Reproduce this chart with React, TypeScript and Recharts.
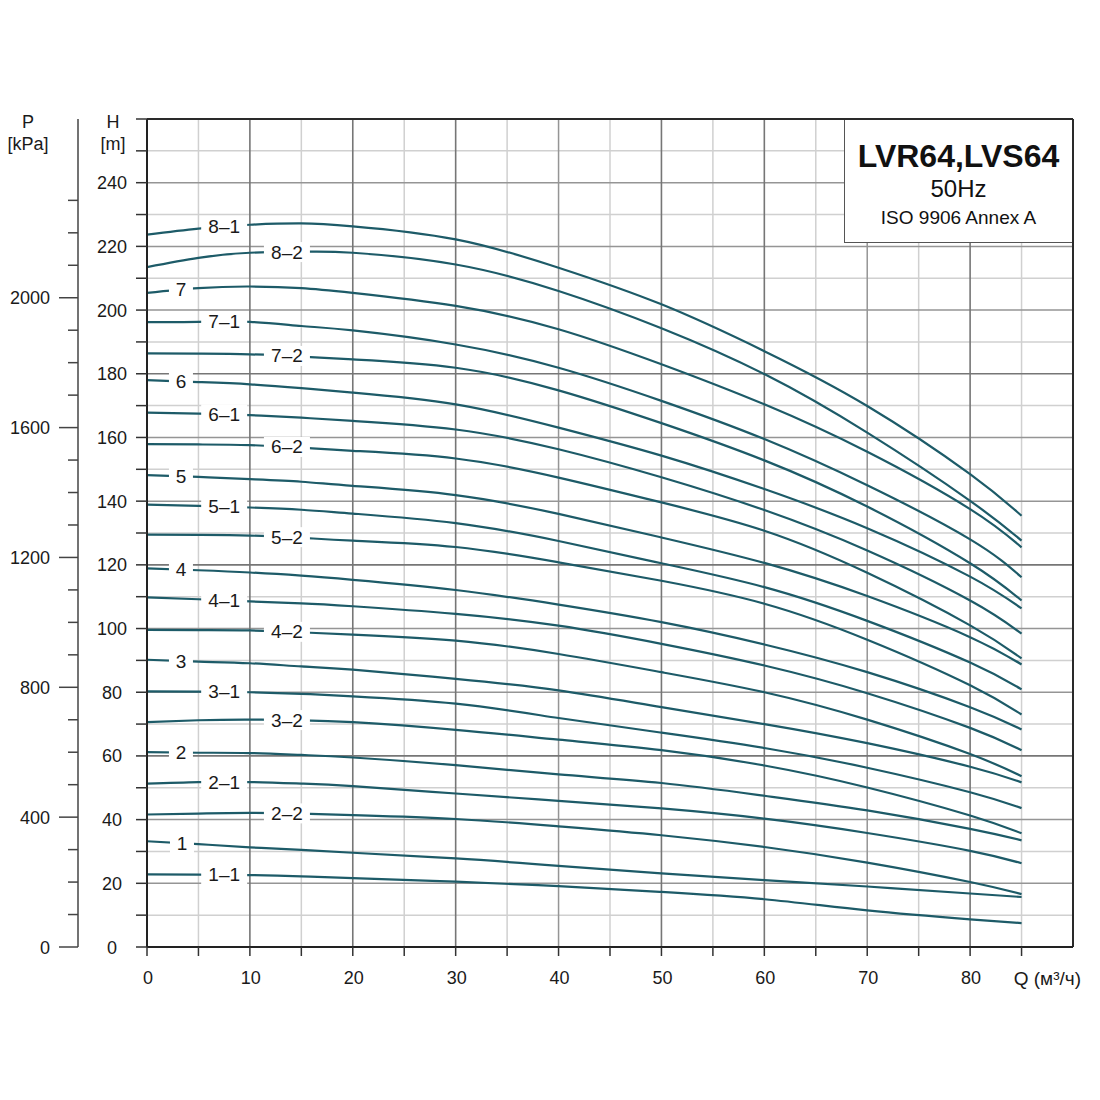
import React from 'react';
import { LineChart, Line, XAxis, YAxis, CartesianGrid, ReferenceDot } from 'recharts';

// Flow rate Q (m³/h) sample points
const Q = [0, 5, 10, 15, 20, 30, 40, 50, 60, 70, 80, 85];

// Head H (m) per curve
const H_8_1 = [223.7, 225.6, 226.8, 227.2, 226.3, 222.2, 213.3, 201.8, 187.1, 169.9, 148.5, 135.4];
const H_8_2 = [213.5, 216.4, 218.0, 218.3, 218.0, 214.3, 206.0, 194.3, 179.9, 161.5, 140.1, 127.6];
const H_7 = [205.4, 206.9, 207.4, 206.9, 205.4, 201.3, 194.0, 183.0, 170.4, 155.5, 137.5, 125.5];
const H_7_1 = [196.2, 196.3, 196.3, 195.0, 193.6, 189.2, 181.9, 171.5, 159.5, 145.0, 128.0, 116.1];
const H_7_2 = [186.4, 186.3, 186.1, 185.4, 184.5, 181.9, 174.8, 164.5, 152.8, 138.3, 120.5, 108.8];
const H_6 = [178.0, 177.4, 176.7, 175.5, 174.1, 170.4, 163.1, 154.3, 143.8, 131.5, 116.3, 106.3];
const H_6_1 = [167.8, 167.5, 167.0, 166.2, 165.2, 162.5, 156.3, 147.5, 137.2, 124.5, 108.8, 98.4];
const H_6_2 = [157.9, 157.8, 157.6, 156.8, 155.8, 153.4, 147.4, 139.6, 130.7, 117.5, 101.0, 90.6];
const H_5 = [148.2, 147.6, 146.9, 146.1, 144.8, 141.9, 136.0, 128.6, 120.6, 110.2, 97.3, 88.7];
const H_5_1 = [138.9, 138.5, 138.0, 137.3, 136.1, 133.1, 127.5, 120.5, 113.0, 102.4, 89.3, 80.9];
const H_5_2 = [129.5, 129.4, 129.2, 128.5, 127.6, 125.6, 120.8, 115.0, 107.8, 96.5, 82.2, 73.0];
const H_4 = [118.9, 118.3, 117.6, 116.6, 115.3, 112.1, 107.5, 102.0, 95.0, 86.3, 75.3, 68.3];
const H_4_1 = [109.8, 109.2, 108.5, 107.9, 107.0, 104.6, 100.9, 95.2, 88.4, 79.7, 68.8, 61.8];
const H_4_2 = [99.6, 99.5, 99.4, 98.8, 98.1, 96.2, 92.0, 86.3, 80.0, 71.4, 60.6, 53.6];
const H_3 = [90.2, 89.6, 89.1, 88.1, 87.1, 84.2, 80.6, 75.3, 70.0, 64.0, 56.6, 51.7];
const H_3_1 = [80.3, 80.2, 80.0, 79.5, 78.7, 76.4, 71.9, 67.3, 62.5, 56.3, 48.6, 43.6];
const H_3_2 = [70.6, 71.2, 71.4, 71.2, 70.6, 68.2, 65.1, 61.8, 57.0, 50.1, 41.3, 35.7];
const H_2 = [61.2, 61.0, 60.9, 60.3, 59.5, 57.1, 54.2, 51.5, 47.5, 42.9, 37.1, 33.5];
const H_2_1 = [51.3, 51.8, 51.8, 51.3, 50.5, 48.2, 45.9, 43.5, 40.3, 35.8, 30.2, 26.3];
const H_2_2 = [41.6, 41.9, 42.1, 41.9, 41.4, 40.2, 37.9, 35.1, 31.4, 26.5, 20.4, 16.6];
const H_1 = [33.2, 32.3, 31.3, 30.5, 29.6, 27.8, 25.5, 23.1, 21.0, 19.0, 16.8, 15.7];
const H_1_1 = [22.8, 22.7, 22.6, 22.2, 21.6, 20.5, 19.1, 17.3, 15.0, 11.5, 8.7, 7.5];

const CURVE_NAMES = ['8–1', '8–2', '7', '7–1', '7–2', '6', '6–1', '6–2', '5', '5–1', '5–2', '4', '4–1', '4–2', '3', '3–1', '3–2', '2', '2–1', '2–2', '1', '1–1'];
const CURVE_VALUES = [H_8_1, H_8_2, H_7, H_7_1, H_7_2, H_6, H_6_1, H_6_2, H_5, H_5_1, H_5_2, H_4, H_4_1, H_4_2, H_3, H_3_1, H_3_2, H_2, H_2_1, H_2_2, H_1, H_1_1];
// Q position of each curve's inline label
const LABEL_Q = [7.5, 13.6, 3.3, 7.5, 13.6, 3.3, 7.5, 13.6, 3.3, 7.5, 13.6, 3.3, 7.5, 13.6, 3.3, 7.5, 13.6, 3.3, 7.5, 13.6, 3.4, 7.5];

// Axis ticks
const X_TICKS = [0, 5, 10, 15, 20, 25, 30, 35, 40, 45, 50, 55, 60, 65, 70, 75, 80, 85];
const X_LABELS = [0, 10, 20, 30, 40, 50, 60, 70, 80];
const H_TICKS = [0, 10, 20, 30, 40, 50, 60, 70, 80, 90, 100, 110, 120, 130, 140, 150, 160, 170, 180, 190, 200, 210, 220, 230, 240, 250, 260];
const H_LABELS = [0, 20, 40, 60, 80, 100, 120, 140, 160, 180, 200, 220, 240];
const P_TICKS = [0, 100, 200, 300, 400, 500, 600, 700, 800, 900, 1000, 1100, 1200, 1300, 1400, 1500, 1600, 1700, 1800, 1900, 2000, 2100, 2200, 2300];
const P_LABELS = [0, 400, 800, 1200, 1600, 2000];

// Grid values
const GRID_V_LIGHT = [5, 15, 25, 35, 45, 55, 65, 75, 85];
const GRID_V_MID = [40, 70];
const GRID_V_DARK = [10, 20, 30, 50, 60, 80];
const GRID_H_LIGHT = [10, 30, 50, 70, 90, 110, 130, 150, 170, 190, 210, 230, 250];
const GRID_H_MID = [20, 40, 80, 100, 140, 160, 200, 220, 240];
const GRID_H_DARK = [60, 120, 180];

const Q_MAX = 90;
const H_MAX = 260;
const KPA_PER_M = 9.81;

const LINE_COLOR = '#1d5b68';
const TEXT_COLOR = '#1a1a1a';
const FONT = '"Liberation Sans", Arial, Helvetica, sans-serif';

const rows = Q.map((q, i) => {
  const r: Record<string, number> = { q };
  CURVE_VALUES.forEach((vals, k) => {
    r['s' + k] = vals[i];
  });
  return r;
});

function interp(values: number[], q: number): number {
  for (let i = 0; i < Q.length - 1; i++) {
    if (q >= Q[i] && q <= Q[i + 1]) {
      const t = (q - Q[i]) / (Q[i + 1] - Q[i]);
      return values[i] + t * (values[i + 1] - values[i]);
    }
  }
  return values[values.length - 1];
}

const XTick = (props: any) => {
  const { x, y, payload } = props;
  const v = payload.value;
  return (
    <g>
      <line x1={x} x2={x} y1={y} y2={y + 9} stroke="#333" strokeWidth={1.5} />
      {X_LABELS.includes(v) && (
        <text x={x + 1} y={y + 37} textAnchor="middle" fontSize={18} fill={TEXT_COLOR} fontFamily={FONT}>
          {v}
        </text>
      )}
    </g>
  );
};

const HTick = (props: any) => {
  const { x, y, payload } = props;
  const v = payload.value;
  return (
    <g>
      <line x1={x - 11} x2={x} y1={y} y2={y} stroke="#333" strokeWidth={1.5} />
      {H_LABELS.includes(v) && (
        <text x={x - 35} y={y + 6.5} textAnchor="middle" fontSize={18} fill={TEXT_COLOR} fontFamily={FONT}>
          {v}
        </text>
      )}
    </g>
  );
};

const PTick = (props: any) => {
  const { x, y, payload } = props;
  const v = payload.value;
  const major = P_LABELS.includes(v);
  return (
    <g>
      <line x1={x - (major ? 19 : 10)} x2={x} y1={y} y2={y} stroke="#444" strokeWidth={1.5} />
      {major && (
        <text x={x - 28} y={y + 6.5} textAnchor="end" fontSize={18} fill={TEXT_COLOR} fontFamily={FONT}>
          {v}
        </text>
      )}
    </g>
  );
};

const makeLabelShape = (text: string) => (props: any) => {
  const { cx, cy } = props;
  const w = text.length > 1 ? 46 : 24;
  return (
    <g>
      <rect x={cx - w / 2} y={cy - 10} width={w} height={20} fill="#ffffff" />
      <text x={cx} y={cy + 6.5} textAnchor="middle" fontSize={19} fill={TEXT_COLOR} fontFamily={FONT}>
        {text}
      </text>
    </g>
  );
};

export default function App() {
  return (
    <div style={{ position: 'absolute', left: 0, top: 0, width: 1100, height: 1100, background: '#fff', fontFamily: FONT }}>
      <LineChart
        width={1100}
        height={1100}
        data={rows}
        margin={{ top: 119, right: 27, bottom: 113, left: 0 }}
        style={{ fontFamily: FONT }}
      >
        <CartesianGrid yAxisId="h" horizontalValues={GRID_H_LIGHT} verticalValues={GRID_V_LIGHT} stroke="#d0d0d0" strokeWidth={1.5} />
        <CartesianGrid yAxisId="h" horizontalValues={GRID_H_MID} verticalValues={GRID_V_MID} stroke="#959595" strokeWidth={1.5} />
        <CartesianGrid yAxisId="h" horizontalValues={GRID_H_DARK} verticalValues={GRID_V_DARK} stroke="#767676" strokeWidth={1.6} />
        <CartesianGrid yAxisId="h" horizontalValues={[H_MAX]} verticalValues={[Q_MAX]} stroke="#2a2a2a" strokeWidth={2} />
        <XAxis
          dataKey="q"
          type="number"
          domain={[0, Q_MAX]}
          allowDataOverflow
          ticks={X_TICKS}
          interval={0}
          tickSize={0}
          tickMargin={0}
          tickLine={false}
          tick={XTick}
          height={40}
          axisLine={{ stroke: '#222', strokeWidth: 2 }}
        />
        <YAxis
          yAxisId="h"
          orientation="left"
          type="number"
          domain={[0, H_MAX]}
          allowDataOverflow
          ticks={H_TICKS}
          interval={0}
          tickSize={0}
          tickMargin={0}
          tickLine={false}
          tick={HTick}
          width={69}
          axisLine={{ stroke: '#222', strokeWidth: 2 }}
        />
        <YAxis
          yAxisId="p"
          orientation="left"
          type="number"
          domain={[0, H_MAX * KPA_PER_M]}
          allowDataOverflow
          ticks={P_TICKS}
          interval={0}
          tickSize={0}
          tickMargin={0}
          tickLine={false}
          tick={PTick}
          width={78}
          axisLine={{ stroke: '#444', strokeWidth: 1.5 }}
        />
        {CURVE_VALUES.map((_, k) => (
          <Line
            key={'s' + k}
            yAxisId="h"
            dataKey={'s' + k}
            type="natural"
            stroke={LINE_COLOR}
            strokeWidth={2.2}
            dot={false}
            activeDot={false}
            isAnimationActive={false}
          />
        ))}
        {CURVE_VALUES.map((vals, k) => (
          <ReferenceDot
            key={'l' + k}
            yAxisId="h"
            x={LABEL_Q[k]}
            y={interp(vals, LABEL_Q[k])}
            r={10}
            zIndex={1500}
            shape={makeLabelShape(CURVE_NAMES[k])}
          />
        ))}
      </LineChart>

      <svg width={1100} height={1100} style={{ position: 'absolute', left: 0, top: 0, pointerEvents: 'none' }}>
        <text x={28} y={128} textAnchor="middle" fontSize={18} fill={TEXT_COLOR} fontFamily={FONT}>P</text>
        <text x={28} y={150} textAnchor="middle" fontSize={18} fill={TEXT_COLOR} fontFamily={FONT}>[kPa]</text>
        <text x={113} y={128} textAnchor="middle" fontSize={18} fill={TEXT_COLOR} fontFamily={FONT}>H</text>
        <text x={113} y={150} textAnchor="middle" fontSize={18} fill={TEXT_COLOR} fontFamily={FONT}>[m]</text>
        <text x={1081} y={985} textAnchor="end" fontSize={19} fill={TEXT_COLOR} fontFamily={FONT}>Q (м³/ч)</text>
      </svg>

      <div
        style={{
          position: 'absolute',
          left: 844,
          top: 120,
          width: 228,
          height: 123,
          background: '#fff',
          borderLeft: '1.5px solid #555',
          borderBottom: '1.5px solid #555',
          boxSizing: 'border-box',
          color: '#111',
          textAlign: 'center',
        }}
      >
        <div style={{ position: 'absolute', left: 0, right: 0, top: 20, fontSize: 32, lineHeight: '32px', fontWeight: 'bold' }}>LVR64,LVS64</div>
        <div style={{ position: 'absolute', left: 0, right: 0, top: 57, fontSize: 24, lineHeight: '24px' }}>50Hz</div>
        <div style={{ position: 'absolute', left: 0, right: 0, top: 88, fontSize: 19, lineHeight: '19px' }}>ISO 9906 Annex A</div>
      </div>
    </div>
  );
}
